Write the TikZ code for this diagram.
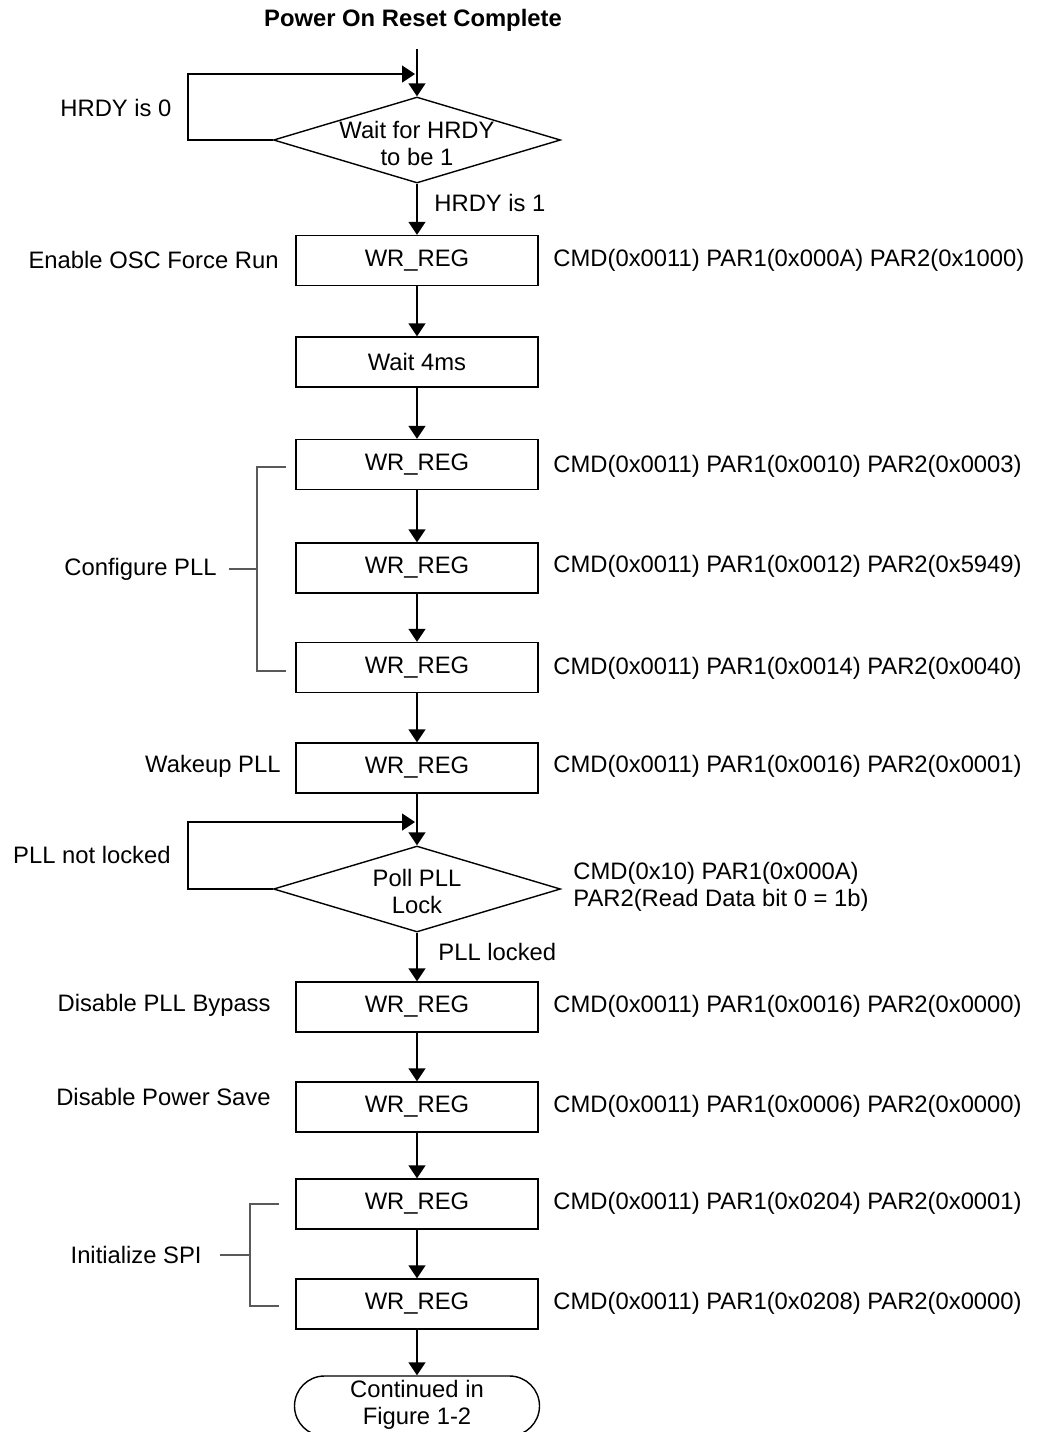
\documentclass[tikz,border=0pt]{standalone}
\usepackage{fontspec}
\setmainfont{Liberation Sans}
\usetikzlibrary{arrows.meta,shapes.geometric}
\newcommand\myfs{\fontsize{11.9pt}{13.5pt}\selectfont}
\begin{document}
\begin{tikzpicture}[x=0.5pt,y=-0.5pt,
  every node/.style={font=\myfs, inner sep=0pt},
  box/.style={draw, line width=0.7pt, minimum width=121pt, minimum height=25pt},
  dia/.style={draw, diamond, line width=0.7pt, minimum width=143.5pt, minimum height=43pt},
  term/.style={draw, rounded corners=15pt, minimum width=122.5pt, minimum height=30pt, line width=0.7pt},
  arr/.style={line width=0.7pt, -{Triangle[width=8.5pt,length=6.5pt]}},
  brk/.style={line width=0.7pt, draw=black!65},
  lbl/.style={align=center}
]
\useasboundingbox (0,0) rectangle (1038,1432);

% title and start
\node[font=\myfs\bfseries] (title) at (413,20) {Power On Reset Complete};
\coordinate (start) at (417,49);

% main column
\node[dia] (d1) at (417,140) {};
\node[lbl] (d1t) at (417,143) {Wait for HRDY\\to be 1};
\node[box] (b1) at (417,260.5) {WR\_REG};
\node[box] (b2) at (417,362) {Wait 4ms};
\node[box] (b3) at (417,464.5) {WR\_REG};
\node[box] (b4) at (417,568) {WR\_REG};
\node[box] (b5) at (417,667.5) {WR\_REG};
\node[box] (b6) at (417,768) {WR\_REG};
\node[dia] (d2) at (417,889) {};
\node[lbl] (d2t) at (417,891) {Poll PLL\\Lock};
\node[box] (b7) at (417,1007) {WR\_REG};
\node[box] (b8) at (417,1107) {WR\_REG};
\node[box] (b9) at (417,1204) {WR\_REG};
\node[box] (b10) at (417,1304) {WR\_REG};
\node[term] (t) at (417,1406) {};
\node[lbl] (tt) at (417,1405) {Continued in\\Figure 1-2};

% connectors
\draw[arr] (start) -- (d1.north);
\draw[arr] (d1.south) -- (b1.north);
\draw[arr] (b1.south) -- (b2.north);
\draw[arr] (b2.south) -- (b3.north);
\draw[arr] (b3.south) -- (b4.north);
\draw[arr] (b4.south) -- (b5.north);
\draw[arr] (b5.south) -- (b6.north);
\draw[arr] (b6.south) -- (d2.north);
\draw[arr] (d2.south) -- (b7.north);
\draw[arr] (b7.south) -- (b8.north);
\draw[arr] (b8.south) -- (b9.north);
\draw[arr] (b9.south) -- (b10.north);
\draw[arr] (b10.south) -- (t.north);

% loops
\coordinate (l1) at (188,74);
\coordinate (j1) at (415,74);
\draw[arr] (d1.west) -| (l1) -- (j1);
\coordinate (l2) at (188,822);
\coordinate (j2) at (415,822);
\draw[arr] (d2.west) -| (l2) -- (j2);

% branch labels
\node[anchor=west] (h0) at (60,108) {HRDY is 0};
\node[anchor=west] (h1) at (434,203) {HRDY is 1};
\node[anchor=east] (pn) at (171,855) {PLL not locked};
\node[anchor=west] (pl) at (438,952) {PLL locked};

% left labels
\node[anchor=east] (s1) at (279,260) {Enable OSC Force Run};
\node[anchor=east] (s6) at (281,766) {Wakeup PLL};
\node[anchor=east] (s7) at (271,1005) {Disable PLL Bypass};
\node[anchor=east] (s8) at (271,1097) {Disable Power Save};
\node[anchor=east] (cfg) at (217,569) {Configure PLL};
\node[anchor=east] (spi) at (202,1255) {Initialize SPI};

% brackets
\draw[brk] (286,467) -- (257,467) -- (257,671) -- (286,671);
\draw[brk] (229,569) -- (257,569);
\draw[brk] (279,1204) -- (250,1204) -- (250,1306) -- (279,1306);
\draw[brk] (220,1255) -- (250,1255);

% right labels
\node[anchor=west] (r1) at (553,260) {CMD(0x0011) PAR1(0x000A) PAR2(0x1000)};
\node[anchor=west] (r3) at (553,466) {CMD(0x0011) PAR1(0x0010) PAR2(0x0003)};
\node[anchor=west] (r4) at (553,566) {CMD(0x0011) PAR1(0x0012) PAR2(0x5949)};
\node[anchor=west] (r5) at (553,668) {CMD(0x0011) PAR1(0x0014) PAR2(0x0040)};
\node[anchor=west] (r6) at (553,766) {CMD(0x0011) PAR1(0x0016) PAR2(0x0001)};
\node[anchor=west, align=left] (r7) at (573,887) {CMD(0x10) PAR1(0x000A)\\PAR2(Read Data bit 0 = 1b)};
\node[anchor=west] (r8) at (553,1006) {CMD(0x0011) PAR1(0x0016) PAR2(0x0000)};
\node[anchor=west] (r9) at (553,1106) {CMD(0x0011) PAR1(0x0006) PAR2(0x0000)};
\node[anchor=west] (r10) at (553,1203) {CMD(0x0011) PAR1(0x0204) PAR2(0x0001)};
\node[anchor=west] (r11) at (553,1303) {CMD(0x0011) PAR1(0x0208) PAR2(0x0000)};
\end{tikzpicture}
\end{document}
